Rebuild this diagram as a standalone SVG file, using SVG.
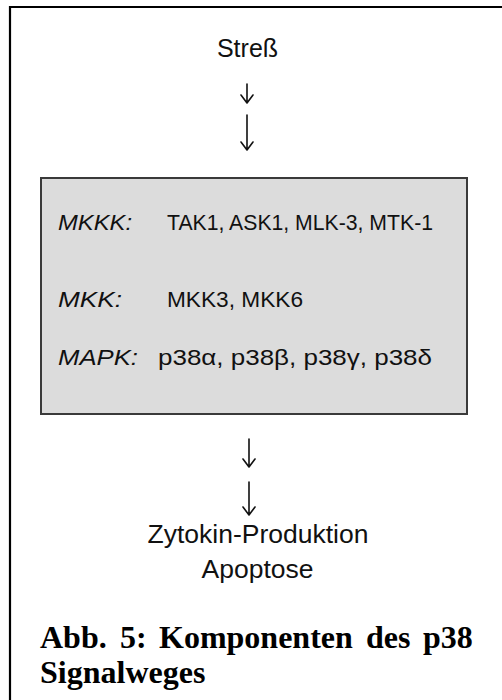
<svg xmlns="http://www.w3.org/2000/svg" width="502" height="700" viewBox="0 0 502 700">
  <style>
    .lbl { font-family: "Liberation Sans", Arial, sans-serif; fill: #111; }
    .it { font-style: italic; }
    .cap { font-family: "Liberation Serif", "Times New Roman", serif; font-weight: bold; font-size: 32px; fill: #000; }
    .arrow { fill: none; stroke: #111; stroke-width: 1.6; stroke-linecap: round; stroke-linejoin: round; }
  </style>

  <!-- frame -->
  <path d="M10,700 V7 H502" fill="none" stroke="#000" stroke-width="2.2"/>

  <g id="stress">
    <text class="lbl" x="247.5" y="57" font-size="25" text-anchor="middle">Streß</text>
  </g>

  <g id="cascade">
    <rect x="41" y="178" width="426" height="236" fill="#dcdcdc" stroke="#3a3a3a" stroke-width="2"/>
    <text class="lbl it" x="58" y="230" font-size="22" textLength="74" lengthAdjust="spacingAndGlyphs">MKKK:</text>
    <text class="lbl" x="167" y="230" font-size="22" textLength="266" lengthAdjust="spacingAndGlyphs">TAK1, ASK1, MLK-3, MTK-1</text>
    <text class="lbl it" x="58" y="307" font-size="22" textLength="64" lengthAdjust="spacingAndGlyphs">MKK:</text>
    <text class="lbl" x="167" y="307" font-size="22" textLength="136" lengthAdjust="spacingAndGlyphs">MKK3, MKK6</text>
    <text class="lbl it" x="58" y="365" font-size="22" textLength="80" lengthAdjust="spacingAndGlyphs">MAPK:</text>
    <text class="lbl" x="158" y="365" font-size="22" textLength="274" lengthAdjust="spacingAndGlyphs">p38α, p38β, p38γ, p38δ</text>
  </g>

  <g id="outcome">
    <text class="lbl" x="258" y="543" font-size="26.5" text-anchor="middle">Zytokin-Produktion</text>
    <text class="lbl" x="257.5" y="578" font-size="26.5" text-anchor="middle">Apoptose</text>
  </g>

  <g id="connectors">
    <path class="arrow" d="M247,84 V103 M241,95 L247,103 L253,95"/>
    <path class="arrow" d="M247,115 V150 M241,142 L247,150 L253,142"/>
    <path class="arrow" d="M249,439 V467 M243,459 L249,467 L255,459"/>
    <path class="arrow" d="M249,482 V515 M243,507 L249,515 L255,507"/>
  </g>

  <g id="caption">
    <text class="cap" y="648"><tspan x="40">Abb.</tspan><tspan x="120">5:</tspan><tspan x="159">Komponenten</tspan><tspan x="366">des</tspan><tspan x="423">p38</tspan></text>
    <text class="cap" x="40" y="683">Signalweges</text>
  </g>
</svg>
